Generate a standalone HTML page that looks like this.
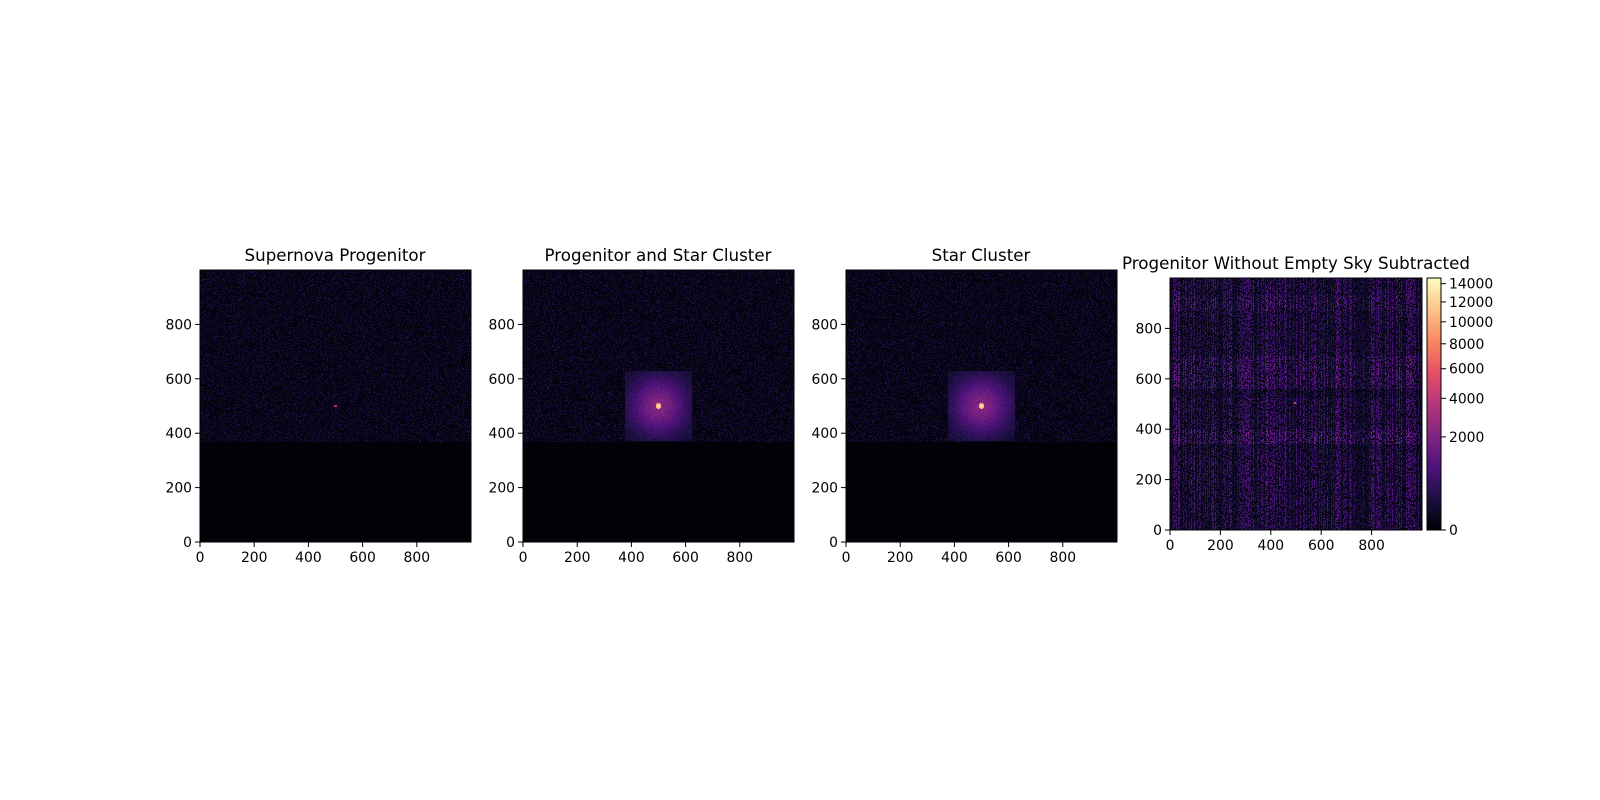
<!DOCTYPE html>
<html><head><meta charset="utf-8">
<style>
body{margin:0;background:#fff;width:1600px;height:800px;overflow:hidden;font-family:"DejaVu Sans","Liberation Sans",sans-serif;}
#root{position:relative;width:1600px;height:800px;}
canvas{position:absolute;image-rendering:pixelated;}
.t{position:absolute;font-size:16.7px;color:#000;white-space:nowrap;transform:translateX(-50%);line-height:20px;}
svg{position:absolute;left:0;top:0;}
</style></head><body>
<div id="root">
<canvas id="c1" width="271" height="272" style="left:200px;top:270px;width:271px;height:272px"></canvas>
<canvas id="c2" width="271" height="272" style="left:523px;top:270px;width:271px;height:272px"></canvas>
<canvas id="c3" width="271" height="272" style="left:846px;top:270px;width:271px;height:272px"></canvas>
<canvas id="c4" width="252" height="252" style="left:1170px;top:278px;width:252px;height:252px"></canvas>
<canvas id="cb" width="1" height="252" style="left:1427px;top:278px;width:14px;height:252px"></canvas>
<div class="t" style="left:335px;top:245px">Supernova Progenitor</div>
<div class="t" style="left:658px;top:245px">Progenitor and Star Cluster</div>
<div class="t" style="left:981px;top:245px">Star Cluster</div>
<div class="t" style="left:1296px;top:253px">Progenitor Without Empty Sky Subtracted</div>
<svg id="ax" width="1600" height="800"></svg>
</div>
<script>
const axisTicks=[0,200,400,600,800];
const cbTicks=[0,2000,4000,6000,8000,10000,12000,14000];
const cbMax=14650;
const skyBoundary=367;
const srcX=500, srcY=500;
const clusterBox=[375,625,370,630];

const magma=[[0,0,4],[28,16,68],[79,18,123],[129,37,129],[181,54,122],[229,80,100],[251,135,97],[254,194,135],[252,253,191]];
function cmap(v){v=Math.max(0,Math.min(1,v));const p=v*(magma.length-1),i=Math.min(magma.length-2,Math.floor(p)),f=p-i;
 return magma[i].map((c,k)=>Math.round(c+(magma[i+1][k]-c)*f));}
let seed=12345;function rnd(){seed=(seed*1103515245+12345)%2147483648;return seed/2147483648;}

function draw(id,w,h,fn){const cv=document.getElementById(id),ctx=cv.getContext('2d'),im=ctx.createImageData(w,h);
 for(let py=0;py<h;py++)for(let px=0;px<w;px++){const x=(px+0.5)/w*1000,y=(1-(py+0.5)/h)*1000;const c=cmap(fn(x,y,px,py));const o=(py*w+px)*4;im.data[o]=c[0];im.data[o+1]=c[1];im.data[o+2]=c[2];im.data[o+3]=255;}
 ctx.putImageData(im,0,0);}
function sky(x,y){if(y<skyBoundary)return 0.008;const r=rnd();return 0.015+Math.pow(r,3)*0.12;}
function cluster(x,y){let v=sky(x,y);const d=Math.hypot(x-srcX,y-srcY);
 if(x>clusterBox[0]&&x<clusterBox[1]&&y>clusterBox[2]&&y<clusterBox[3]){v=Math.max(v,0.04+0.3*Math.exp(-d*d/(2*75*75))+rnd()*0.07);}
 if(d<30)v=Math.max(v,0.45-d*0.006);
 if(d<11)v=1.0-d*0.02; return v;}
draw('c1',271,272,(x,y)=>{const d=Math.hypot(x-srcX,y-srcY);if(d<5)return 0.45;return sky(x,y);});
draw('c2',271,272,cluster);
draw('c3',271,272,cluster);
const colF=[];for(let i=0;i<252;i++){const r=rnd();colF.push(r<0.15?1.3:(r<0.55?1.0:0.55));}
function rowF(y){if(y>340&&y<395)return 1.2;if(y>300&&y<340)return 0.8;if(y>525&&y<560)return 0.7;if(y>560&&y<690)return 1.1;if(y>870&&y<930)return 1.05;if(y>690&&y<870)return 0.85;return 0.9;}
draw('c4',252,252,(x,y,px)=>{const r=rnd();let v=(r<0.3?0.02:(0.08+0.17*r))*colF[px]*rowF(y);if(Math.hypot(x-495,y-505)<5)v=0.55;return v;});
(function(){const cv=document.getElementById('cb'),ctx=cv.getContext('2d');for(let i=0;i<252;i++){const c=cmap(1-i/251);ctx.fillStyle=`rgb(${c})`;ctx.fillRect(0,i,1,1);}})();

const svg=document.getElementById('ax'),NS='http://www.w3.org/2000/svg';
const FF='DejaVu Sans, Liberation Sans, sans-serif';
function el(t,a,txt){const e=document.createElementNS(NS,t);for(const k in a)e.setAttribute(k,a[k]);if(txt!==undefined)e.textContent=txt;svg.appendChild(e);return e;}
const panels=[[200,270,271,272,'p1'],[523,270,271,272,'p2'],[846,270,271,272,'p3'],[1170,278,252,252,'p4']];
panels.forEach(([L,T,W,H,nm])=>{
 const fr=el('rect',{x:L,y:T,width:W,height:H,fill:'none',stroke:'#000','stroke-width':1});
 
 
 const sx=v=>L+v/1000*W, sy=v=>T+H-v/1000*H;
 axisTicks.forEach(v=>{
  el('line',{x1:sx(v),x2:sx(v),y1:T+H,y2:T+H+5,stroke:'#000'});
  const tx=el('text',{x:sx(v),y:T+H+20,'font-size':13.9,'text-anchor':'middle','font-family':FF},String(v));
  
  
  el('line',{x1:L-5,x2:L,y1:sy(v),y2:sy(v),stroke:'#000'});
  const ty=el('text',{x:L-8,y:sy(v)+5,'font-size':13.9,'text-anchor':'end','font-family':FF},String(v));
  
  
 });
});
const cbL=1427,cbT=278,cbH=252,cbW=14;
el('rect',{x:cbL,y:cbT,width:cbW,height:cbH,fill:'none',stroke:'#000'});
const cy=v=>cbT+cbH-Math.sqrt(v/cbMax)*cbH;
cbTicks.forEach(v=>{
 el('line',{x1:cbL+cbW,x2:cbL+cbW+5,y1:cy(v),y2:cy(v),stroke:'#000'});
 const t=el('text',{x:cbL+cbW+8,y:cy(v)+5,'font-size':13.9,'font-family':FF},String(v));
 
 
});
</script>
</body></html>
